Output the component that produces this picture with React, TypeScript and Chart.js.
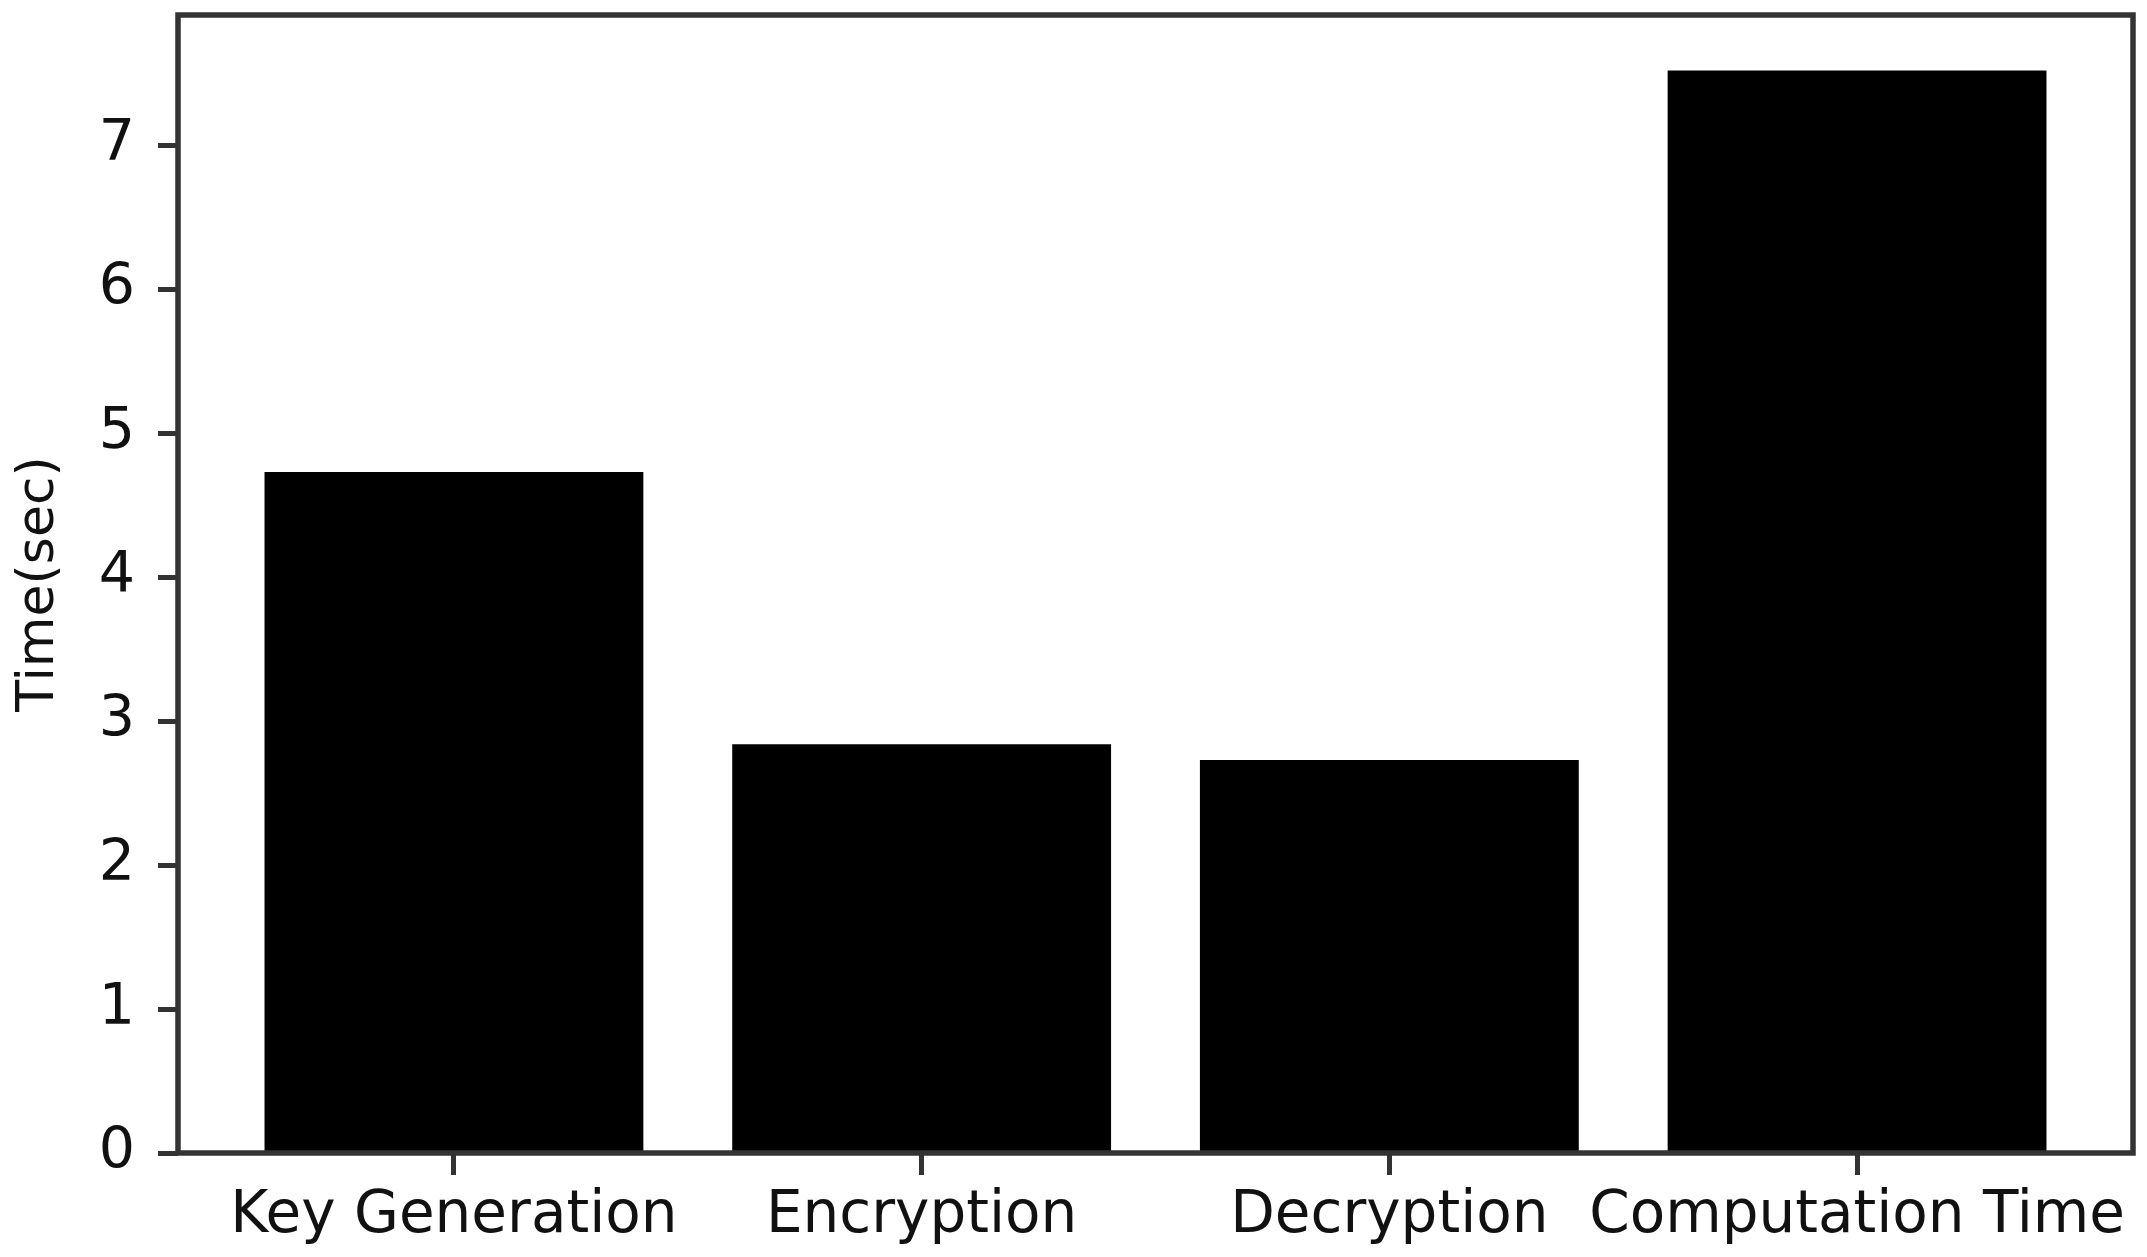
import React, { useEffect, useRef } from "react";
import { Chart, registerables } from "chart.js";

Chart.register(...registerables);

const categories = ["Key Generation", "Encryption", "Decryption", "Computation Time"];
const times = [4.73, 2.84, 2.73, 7.52];
const yTickValues = [0, 1, 2, 3, 4, 5, 6, 7];

const W = 2147;
const H = 1257;

const frame = {
  id: "frame",
  afterDraw(chart: any) {
    const { ctx, chartArea } = chart;
    ctx.save();
    ctx.strokeStyle = "#333";
    ctx.lineWidth = 5.5;
    ctx.strokeRect(chartArea.left, chartArea.top, chartArea.right - chartArea.left, chartArea.bottom - chartArea.top);
    ctx.restore();
  },
};

export default function App() {
  const ref = useRef<HTMLCanvasElement | null>(null);
  useEffect(() => {
    document.body.style.margin = "0";
    const canvas = ref.current!;
    const font = "'DejaVu Sans', sans-serif";
    const chart = new Chart(canvas, {
      type: "bar",
      data: {
        datasets: [
          {
            data: times.map((v, i) => ({ x: i, y: v })),
            backgroundColor: "#000",
            borderWidth: 0,
            barPercentage: 0.81,
            categoryPercentage: 1.0,
          },
        ],
      },
      plugins: [frame],
      options: {
        animation: false,
        responsive: false,
        devicePixelRatio: 1,
        layout: { padding: { left: 0, top: 15, right: 14, bottom: 0 } },
        plugins: { legend: { display: false }, tooltip: { enabled: false } },
        scales: {
          x: {
            type: "linear",
            offset: false,
            min: -0.59,
            max: 3.59,
            afterBuildTicks: (scale: any) => {
              scale.ticks = categories.map((_, i) => ({ value: i }));
            },
            afterFit: (scale: any) => {
              scale.height = 104;
              scale.paddingLeft = 0;
              scale.paddingRight = 0;
            },
            ticks: {
              autoSkip: false,
              maxRotation: 0,
              minRotation: 0,
              padding: 7,
              color: "#111",
              font: { family: font, size: 58 },
              callback: (v: any) => categories[Math.round(Number(v))] ?? "",
            },
            grid: {
              display: true,
              offset: false,
              drawOnChartArea: false,
              drawTicks: true,
              tickLength: 22,
              tickWidth: 5,
              tickColor: "#333",
            },
            border: { display: false },
          },
          y: {
            min: 0,
            max: 7.905,
            afterBuildTicks: (scale: any) => {
              scale.ticks = yTickValues.map((v) => ({ value: v }));
            },
            afterFit: (scale: any) => {
              scale.width = 178;
              scale.paddingTop = 0;
              scale.paddingBottom = 0;
            },
            ticks: {
              padding: 23,
              color: "#111",
              font: { family: font, size: 57 },
              callback: (v: any) => String(v),
            },
            grid: {
              display: true,
              drawOnChartArea: false,
              drawTicks: true,
              tickLength: 20,
              tickWidth: 5,
              tickColor: "#333",
            },
            border: { display: false },
            title: {
              display: true,
              text: "Time(sec)",
              color: "#111",
              font: { family: font, size: 52 },
              padding: { top: 8, bottom: 0 },
            },
          },
        },
      },
    } as any);
    return () => chart.destroy();
  }, []);
  return <canvas ref={ref} width={W} height={H} style={{ display: "block", width: W, height: H }} />;
}
